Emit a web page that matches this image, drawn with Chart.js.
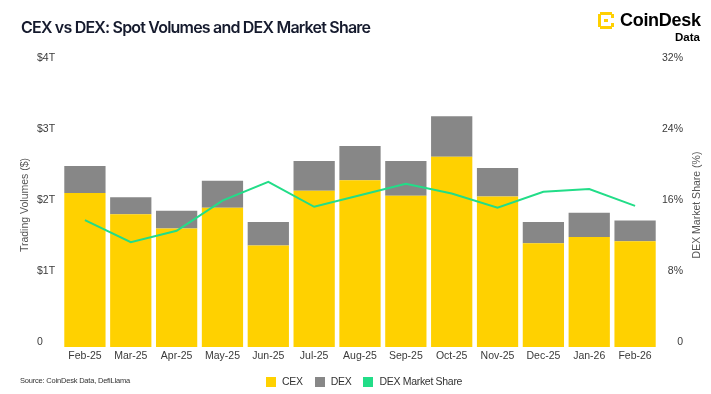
<!DOCTYPE html>
<html>
<head>
<meta charset="utf-8">
<script src="https://cdn.jsdelivr.net/npm/chart.js@4.4.1/dist/chart.umd.min.js"></script>
<style>
  html, body { margin: 0; padding: 0; background: #fff; }
  body { width: 711px; height: 394px; position: relative; overflow: hidden; font-family: "Liberation Sans", Arial, sans-serif; }
  #chart-wrap { position: absolute; left: 0; top: 0; width: 711px; height: 394px; }
  .title { position: absolute; left: 21px; top: 19px; font-family: Inter, sans-serif; font-weight: 600; font-size: 16px; line-height: 17px; letter-spacing: -0.8px; color: #151a2d; white-space: nowrap; }
  .logo { position: absolute; left: 598px; top: 11px; width: 110px; height: 34px; }
  .logo svg { position: absolute; left: 0; top: 1px; }
  .logo .brand { position: absolute; left: 22px; top: 0; font-weight: 700; font-size: 18px; line-height: 18px; letter-spacing: -0.3px; color: #000; }
  .logo .sub { position: absolute; left: 77px; top: 20px; font-weight: 700; font-size: 11.5px; line-height: 12px; color: #000; }
  .source { position: absolute; left: 20px; top: 377px; font-size: 7.5px; line-height: 8px; letter-spacing: -0.2px; color: #333; white-space: nowrap; }
  .legend { position: absolute; left: 266px; top: 376px; display: flex; align-items: center; font-size: 10.5px; line-height: 11px; letter-spacing: -0.3px; color: #333; white-space: nowrap; }
  .legend span.sw { display: inline-block; width: 10px; height: 10px; margin-right: 6px; }
  .legend span.item { display: inline-flex; align-items: center; margin-right: 12px; }
</style>
</head>
<body>
<div id="chart-wrap"><canvas id="volChart"></canvas></div>

<div class="title">CEX vs DEX: Spot Volumes and DEX Market Share</div>

<div class="logo">
  <svg width="16" height="17" viewBox="0 0 16 17">
    <path fill="#FFD000" d="M0 2h3v13H0zM2 0h12v3H2zM2 14h12v3H2zM13 2h3v4h-3zM13 11h3v4h-3zM6 7h4v3H6z"/>
  </svg>
  <div class="brand">CoinDesk</div>
  <div class="sub">Data</div>
</div>

<div class="source">Source: CoinDesk Data, DefiLlama</div>

<div class="legend">
  <span class="item"><span class="sw" style="background:#FFD100"></span>CEX</span>
  <span class="item"><span class="sw" style="background:#878787"></span>DEX</span>
  <span class="item"><span class="sw" style="background:#22DD88"></span>DEX Market Share</span>
</div>

<script>
const months = ['Feb-25', 'Mar-25', 'Apr-25', 'May-25', 'Jun-25', 'Jul-25', 'Aug-25',
                'Sep-25', 'Oct-25', 'Nov-25', 'Dec-25', 'Jan-26', 'Feb-26'];
// trillions of USD
const cexVolume = [2.17, 1.87, 1.67, 1.96, 1.43, 2.20, 2.35, 2.13, 2.68, 2.12, 1.46, 1.55, 1.49];
const dexVolume = [0.38, 0.24, 0.25, 0.38, 0.33, 0.42, 0.48, 0.49, 0.57, 0.40, 0.30, 0.34, 0.29];
// percent
const dexShare = [14.3, 11.8, 13.1, 16.5, 18.6, 15.8, 17.1, 18.4, 17.3, 15.7, 17.5, 17.8, 15.9];

const volumeTicks = [0, 1, 2, 3, 4];
const shareTicks = [0, 8, 16, 24, 32];

const tickFont = { family: '"Liberation Sans", Arial, sans-serif', size: 10.5 };
const tickColor = '#3a3a3a';

// rotated axis titles, both reading bottom to top
const axisTitles = {
    id: 'axisTitles',
    afterDraw(chart) {
        const ctx = chart.ctx;
        const area = chart.chartArea;
        const midY = (area.top + area.bottom) / 2;
        ctx.save();
        ctx.font = '10.5px "Liberation Sans", Arial, sans-serif';
        ctx.fillStyle = '#555';
        ctx.textAlign = 'center';
        ctx.textBaseline = 'middle';
        [[25, 'Trading Volumes ($)'], [697, 'DEX Market Share (%)']].forEach(([x, text]) => {
            ctx.save();
            ctx.translate(x, midY);
            ctx.rotate(-Math.PI / 2);
            ctx.fillText(text, 0, 0);
            ctx.restore();
        });
        ctx.restore();
    }
};

new Chart(document.getElementById('volChart'), {
    type: 'bar',
    data: {
        labels: months,
        datasets: [
            {
                type: 'line',
                label: 'DEX Market Share',
                data: dexShare,
                yAxisID: 'y1',
                borderColor: '#22DD88',
                backgroundColor: '#22DD88',
                borderWidth: 2,
                pointRadius: 0,
                tension: 0,
                order: 0
            },
            {
                label: 'CEX',
                data: cexVolume,
                backgroundColor: '#FFD100',
                stack: 'vol',
                order: 1
            },
            {
                label: 'DEX',
                data: dexVolume,
                backgroundColor: '#878787',
                stack: 'vol',
                order: 1
            }
        ]
    },
    options: {
        responsive: true,
        maintainAspectRatio: false,
        animation: false,
        layout: { padding: { top: 63, left: 37, right: 28, bottom: 27 } },
        datasets: { bar: { categoryPercentage: 1, barPercentage: 0.9 } },
        plugins: {
            legend: { display: false },
            tooltip: { enabled: false }
        },
        scales: {
            x: {
                stacked: true,
                grid: { display: false, drawTicks: false },
                border: { display: false },
                ticks: { color: tickColor, font: tickFont, padding: 3, maxRotation: 0, autoSkip: false },
                afterFit: (scale) => { scale.height = 20; }
            },
            y: {
                stacked: true,
                position: 'left',
                min: volumeTicks[0],
                max: volumeTicks[volumeTicks.length - 1],
                grid: { display: false, drawTicks: false },
                border: { display: false },
                afterBuildTicks: (scale) => { scale.ticks = volumeTicks.map(v => ({ value: v })); },
                ticks: {
                    color: tickColor,
                    font: tickFont,
                    crossAlign: 'far',
                    labelOffset: -5,
                    callback: (v) => v === 0 ? '0' : '$' + v + 'T'
                },
                afterFit: (scale) => { scale.width = 25; }
            },
            y1: {
                position: 'right',
                min: shareTicks[0],
                max: shareTicks[shareTicks.length - 1],
                grid: { display: false, drawTicks: false },
                border: { display: false },
                afterBuildTicks: (scale) => { scale.ticks = shareTicks.map(v => ({ value: v })); },
                ticks: {
                    color: tickColor,
                    font: tickFont,
                    crossAlign: 'far',
                    labelOffset: -5,
                    callback: (v) => v === 0 ? '0' : v + '%'
                },
                afterFit: (scale) => { scale.width = 25; }
            }
        }
    },
    plugins: [axisTitles]
});
</script>
</body>
</html>
